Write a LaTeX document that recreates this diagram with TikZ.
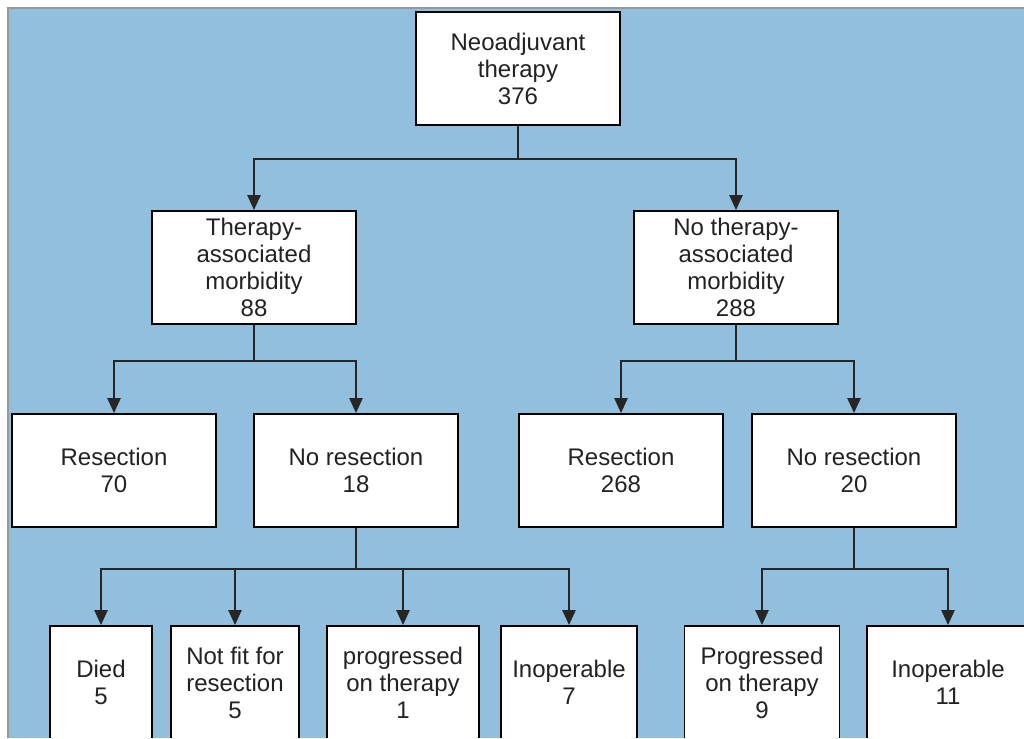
\documentclass[tikz,border=0pt]{standalone}
\usepackage{fontspec}
\setmainfont{Liberation Sans}
\usetikzlibrary{arrows.meta,positioning}
\definecolor{bgblue}{RGB}{145,191,221}
\definecolor{txtgrey}{RGB}{34,34,34}
\begin{document}
\begin{tikzpicture}[x=1pt,y=-1pt,
    box/.style={draw=black,line width=1.8pt,fill=white,align=center,
      text=txtgrey,inner sep=0pt,minimum height=113pt,
      font=\fontsize{24}{27}\selectfont},
    conn/.style={line width=2.4pt,draw=black!85},
    arr/.style={conn,-{Triangle[width=13pt,length=15pt]}}]
  \useasboundingbox (0,0) rectangle (1024,738);
  % background
  \fill [bgblue] (8,8) rectangle (1024,738);
  \draw [gray!80,line width=1.2pt] (8,738) -- (8,8) -- (1024,8);
  \begin{scope}
  \clip (8,8) rectangle (1024,737);
  % level 0
  \node [box,minimum width=204pt] (neo) at (518,68.5)
        {Neoadjuvant\\therapy\\376};
  % level 1
  \node [box,minimum width=204pt] (tam) at (254,267.5)
        {Therapy-\\associated\\morbidity\\88};
  \node [box,minimum width=204pt] (ntam) at (736,267.5)
        {No therapy-\\associated\\morbidity\\288};
  % level 2
  \node [box,minimum width=204pt] (resL) at (114,470.5) {Resection\\70};
  \node [box,minimum width=204pt] (nresL) at (356,470.5) {No resection\\18};
  \node [box,minimum width=204pt] (resR) at (621,470.5) {Resection\\268};
  \node [box,minimum width=204pt] (nresR) at (854,470.5) {No resection\\20};
  % level 3
  \node [box,minimum width=102pt] (died) at (101,682.5) {Died\\5};
  \node [box,minimum width=128pt] (nofit) at (235,682.5)
        {Not fit for\\resection\\5};
  \node [box,minimum width=152pt] (progL) at (403,682.5)
        {progressed\\on therapy\\1};
  \node [box,minimum width=136pt] (inopL) at (569,682.5) {Inoperable\\7};
  \node [box,minimum width=155pt] (progR) at (762,682.5)
        {Progressed\\on therapy\\9};
  \node [box,minimum width=162pt] (inopR) at (948,682.5) {Inoperable\\11};
  \end{scope}
  % connectors
  \draw [conn] (neo.south) -- ++(0,33) coordinate (j0);
  \draw [arr] (j0) -| (tam.north);
  \draw [arr] (j0) -| (ntam.north);
  \draw [conn] (tam.south) -- ++(0,36) coordinate (j1);
  \draw [arr] (j1) -| (resL.north);
  \draw [arr] (j1) -| (nresL.north);
  \draw [conn] (ntam.south) -- ++(0,36) coordinate (j2);
  \draw [arr] (j2) -| (resR.north);
  \draw [arr] (j2) -| (nresR.north);
  \draw [conn] (nresL.south) -- ++(0,41) coordinate (j3);
  \draw [arr] (j3) -| (died.north);
  \draw [arr] (j3) -| (nofit.north);
  \draw [arr] (j3) -| (progL.north);
  \draw [arr] (j3) -| (inopL.north);
  \draw [conn] (nresR.south) -- ++(0,41) coordinate (j4);
  \draw [arr] (j4) -| (progR.north);
  \draw [arr] (j4) -| (inopR.north);
\end{tikzpicture}
\end{document}
